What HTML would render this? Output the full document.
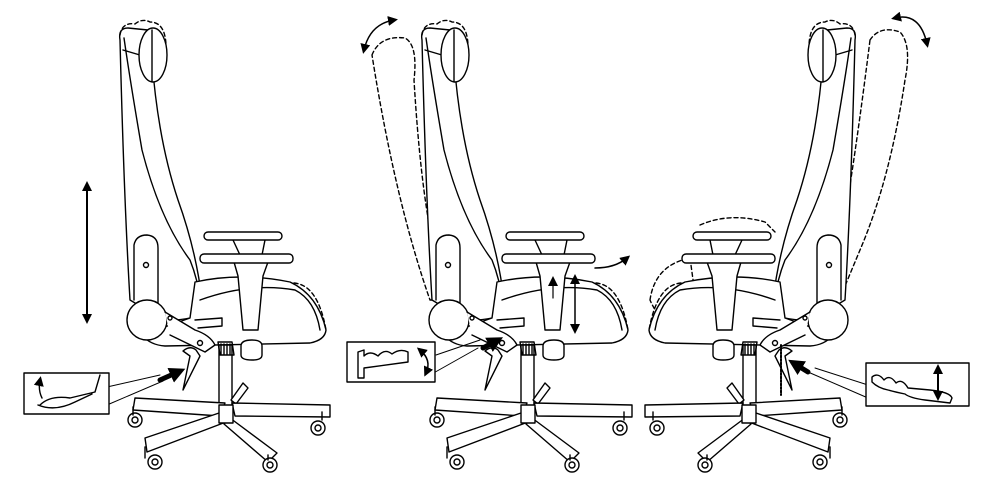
<!DOCTYPE html>
<html><head><meta charset="utf-8"><style>html,body{margin:0;padding:0;background:#fff}svg{display:block}</style></head>
<body>
<svg width="990" height="491" viewBox="0 0 990 491" xmlns="http://www.w3.org/2000/svg" fill="none" stroke="#000" stroke-width="1.4" stroke-linejoin="round" stroke-linecap="round">
<defs>
<g id="chair">
  <path d="M120,40 Q118,28 128,28 L148,30 Q156,35 152,60 Q158,140 178,200 Q196,250 202,300 L190,318 Q170,322 160,318 L130,300 Q124,200 120,40 Z" fill="#fff"/>
  <path d="M124,38 Q130,80 142,150 Q160,220 190,260 Q198,280 200,300"/>
  <path d="M123,50 L150,58"/>
  <ellipse cx="153" cy="55" rx="14" ry="27" fill="#fff"/>
  <path d="M152,30 L152,82"/>
  <path d="M120,35 Q122,22 135,24 Q142,18 150,22 Q165,22 166,45" stroke-dasharray="4,3"/>
  <path d="M134,300 L134,245 Q136,235 147,235 Q158,236 158,248 L158,305" fill="#fff"/>
  <circle cx="146" cy="265" r="2.5"/>
  <path d="M195,282 Q240,272 290,282 Q318,295 326,330 Q325,340 310,343 L165,346 Q150,345 142,335 L190,318 Z" fill="#fff"/>
  <path d="M200,300 Q250,282 295,290 Q315,300 320,330"/>
  <path d="M294,283 Q318,285 326,330" stroke-dasharray="4,3"/>
  <circle cx="147" cy="320" r="20" fill="#fff"/>
  <path d="M165,312 L195,330 Q210,335 215,345 L205,352 L170,335" fill="#fff"/>
  <circle cx="170" cy="318" r="2"/><circle cx="200" cy="343" r="2.5"/>
  <path d="M195,320 L222,318 L222,326 L198,328"/>
  <path d="M183,351 Q190,345 196,350 L200,356 L183,390 L190,356 Z" fill="#fff"/>
  <path d="M234,262 L238,276 L243,330 L258,330 L263,276 L268,262 Z" fill="#fff"/>
  <path d="M233,240 L240,255 M265,240 L262,255"/>
  <rect x="204" y="232" width="78" height="8" rx="4" fill="#fff"/>
  <rect x="200" y="254" width="93" height="9" rx="4" fill="#fff"/>
  <rect x="219" y="345" width="13" height="68" fill="#fff"/>
  <path d="M218,342 L232,342 L234,355 L220,355 Z M221,344 L221,354 M224,344 L224,354 M227,344 L227,354 M230,344 L230,354"/>
  <path d="M241,346 Q241,340 252,340 Q262,340 262,346 L262,355 Q262,360 252,360 Q241,360 241,355 Z" fill="#fff"/>
  <path d="M231,400 L243,383 L248,388 L236,404 Z" fill="#fff"/>
  <path d="M225,403 L135,398 L133,410 L220,416 Z" fill="#fff"/>
  <path d="M232,403 L330,405 L330,417 L235,416 Z" fill="#fff"/>
  <path d="M222,412 L145,438 L147,452 L226,422 Z" fill="#fff"/>
  <path d="M230,418 L277,453 L268,462 L224,424 Z" fill="#fff"/>
  <rect x="219" y="405" width="14" height="18" fill="#fff"/>
  <circle cx="135" cy="420" r="7" fill="#fff"/><circle cx="135" cy="420" r="3"/>
  <circle cx="155" cy="462" r="7" fill="#fff"/><circle cx="155" cy="462" r="3"/>
  <circle cx="270" cy="465" r="7" fill="#fff"/><circle cx="270" cy="465" r="3"/>
  <circle cx="318" cy="428" r="7" fill="#fff"/><circle cx="318" cy="428" r="3"/>
  <path d="M145,447 L145,458 M268,455 L268,460 M322,412 L322,420 M133,407 L133,415"/>
</g>
<marker id="ah" markerUnits="userSpaceOnUse" markerWidth="10" markerHeight="10" refX="6" refY="5" orient="auto-start-reverse"><path d="M0,0 L10,5 L0,10 Z" fill="#000" stroke="none"/></marker>
<marker id="ahb" markerUnits="userSpaceOnUse" markerWidth="16" markerHeight="16" refX="8" refY="8" orient="auto"><path d="M0,0 L16,8 L0,16 Z" fill="#000" stroke="none"/></marker>
</defs>

<use href="#chair"/>
<path d="M87,185 L87,320" stroke-width="2" marker-start="url(#ah)" marker-end="url(#ah)"/>
<path d="M160,380 L178,372" stroke-width="5" marker-end="url(#ahb)"/>
<path d="M107,387 L160,375 M107,405 L163,381" stroke-width="1"/>
<rect x="24" y="373" width="85" height="41" fill="#fff"/>
<path d="M40,405 Q50,395 70,398 L95,392 L100,375 M38,405 Q55,412 75,402 L92,394" />
<path d="M42,398 Q38,390 40,380" marker-end="url(#ah)"/>

<path d="M372,55 Q380,35 405,38 Q418,45 414,80 Q420,180 432,240 L440,300 L430,300 Q395,200 372,55 Z" stroke-dasharray="4,3"/>
<use href="#chair" transform="translate(302,0)"/>
<path d="M364,50 Q370,24 394,20" stroke-width="1.5" marker-start="url(#ah)" marker-end="url(#ah)"/>
<path d="M595,268 Q615,268 627,258" stroke-width="1.5" marker-end="url(#ah)"/>
<path d="M575,278 L575,330" stroke-width="1.5" marker-start="url(#ah)" marker-end="url(#ah)"/>
<path d="M553,298 L553,280" stroke-width="1.2" marker-end="url(#ah)"/>
<path d="M483,348 L496,341" stroke-width="5" marker-end="url(#ahb)"/>
<path d="M436,355 L480,340 M430,375 L478,348" stroke-width="1"/>
<rect x="347" y="342" width="88" height="40" fill="#fff"/>
<path d="M358,352 L358,378 L364,378 L364,368 L408,362 L408,352 Q400,348 392,354 Q385,348 378,356 Q370,350 364,356 L364,350 Z"/>
<path d="M420,350 Q432,360 426,373" stroke-width="1.5" marker-start="url(#ah)" marker-end="url(#ah)"/>

<path d="M870,40 Q880,25 900,32 Q912,45 905,80 Q890,180 860,250 L835,310 L830,300 Q850,200 870,40 Z" stroke-dasharray="4,3"/>
<path d="M650,300 Q655,265 690,258 L700,330 Q665,335 650,300 Z" stroke-dasharray="4,3"/>
<path d="M700,225 Q730,212 765,222 L775,232" stroke-dasharray="4,3"/>
<use href="#chair" transform="translate(975,0) scale(-1,1)"/>
<path d="M895,18 Q920,12 927,44" stroke-width="1.5" marker-start="url(#ah)" marker-end="url(#ah)"/>
<path d="M781,345 L781,395" stroke-width="2" stroke-dasharray="2,1.5"/>
<path d="M808,372 L795,364" stroke-width="5" marker-end="url(#ahb)"/>
<path d="M815,368 L868,385 M808,372 L868,398" stroke-width="1"/>
<rect x="866" y="363" width="103" height="43" fill="#fff"/>
<path d="M872,377 Q878,372 884,380 Q890,374 896,383 Q902,378 908,388 L930,390 Q950,392 952,398 L950,403 L925,400 Q910,398 905,394 Q895,392 888,390 Q878,388 872,382 Z"/>
<path d="M938,368 L938,397" stroke-width="2" marker-start="url(#ah)" marker-end="url(#ah)"/>
</svg>
</body></html>
